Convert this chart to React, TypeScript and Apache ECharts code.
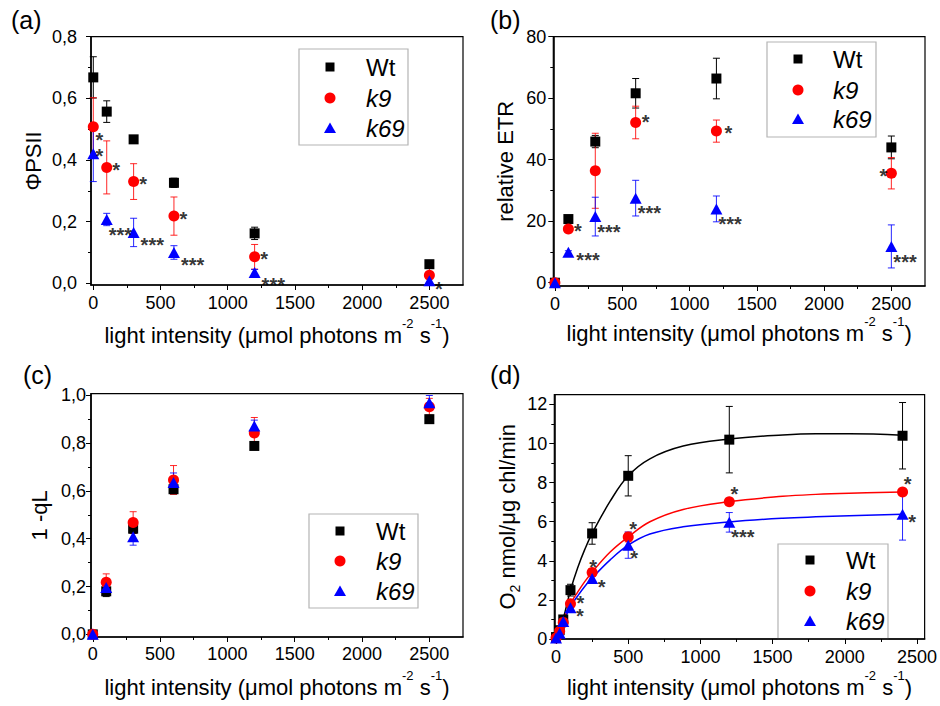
import React, { useEffect, useRef } from 'react';
import * as echarts from 'echarts';

const FONT = '"Liberation Sans", Arial, Helvetica, sans-serif';
const SERIES_KEYS = ['Wt', 'k9', 'k69'];

// ---------- (a) PSII yield ----------
const LIGHT_ABC = [0, 100, 300, 600, 1200, 2500];
const PHI_WT = [0.668, 0.557, 0.467, 0.326, 0.162, 0.062];
const PHI_WT_ERR = [0.067, 0.035, 0.01, 0.015, 0.02, 0.008];
const PHI_K9 = [0.508, 0.376, 0.33, 0.218, 0.086, 0.026];
const PHI_K9_ERR = [0.094, 0.086, 0.058, 0.062, 0.04, 0.025];
const PHI_K69 = [0.42, 0.207, 0.165, 0.1, 0.035, 0.008];
const PHI_K69_ERR = [0.09, 0.02, 0.046, 0.022, 0.01, 0.008];

// ---------- (b) relative ETR ----------
const ETR_WT = [0, 20.7, 45.9, 61.6, 66.4, 44.0];
const ETR_WT_ERR = [0, 0.8, 2, 4.8, 6.6, 3.7];
const ETR_K9 = [0, 17.5, 36.4, 52.1, 49.3, 35.6];
const ETR_K9_ERR = [0, 0.8, 12.2, 5.3, 3.6, 5.1];
const ETR_K69 = [0, 9.9, 21.5, 27.5, 24.0, 11.8];
const ETR_K69_ERR = [0, 0.5, 6.3, 5.8, 4.2, 7.0];

// ---------- (c) 1 - qL ----------
const QL_WT = [0, 0.18, 0.442, 0.607, 0.788, 0.9];
const QL_WT_ERR = [0, 0.022, 0.02, 0.02, 0.015, 0.015];
const QL_K9 = [0, 0.218, 0.468, 0.646, 0.842, 0.952];
const QL_K9_ERR = [0, 0.035, 0.045, 0.06, 0.065, 0.035];
const QL_K69 = [0, 0.196, 0.408, 0.635, 0.871, 0.969];
const QL_K69_ERR = [0, 0.02, 0.035, 0.04, 0.025, 0.03];

// ---------- (d) O2 evolution ----------
const LIGHT_D = [0, 25, 50, 100, 250, 500, 1200, 2400];
const O2_WT = [0.1, 0.45, 1.0, 2.5, 5.4, 8.35, 10.2, 10.4];
const O2_WT_ERR = [0, 0.1, 0.15, 0.3, 0.55, 1.03, 1.7, 1.7];
const O2_K9 = [0.05, 0.4, 0.85, 1.8, 3.4, 5.22, 7.02, 7.52];
const O2_K9_ERR = [0, 0.1, 0.1, 0.2, 0.2, 0.25, 0.15, 0.15];
const O2_K69 = [0.05, 0.3, 0.9, 1.6, 3.1, 4.8, 5.97, 6.38];
const O2_K69_ERR = [0, 0.1, 0.1, 0.15, 0.25, 0.67, 0.5, 1.32];

// fitted curves
const FIT_LIGHT = [0, 50, 100, 150, 200, 250, 375, 500, 650, 880, 1200, 1570, 1800, 2030, 2400];
const FIT_WT = [0, 1.05, 2.5, 3.65, 4.6, 5.4, 7.05, 8.35, 9.22, 9.87, 10.23, 10.44, 10.5, 10.5, 10.43];
const FIT_K9 = [0, 0.95, 1.8, 2.4, 2.95, 3.42, 4.45, 5.22, 6.0, 6.63, 7.03, 7.3, 7.4, 7.46, 7.52];
const FIT_K69 = [0, 0.85, 1.65, 2.2, 2.7, 3.12, 4.05, 4.8, 5.37, 5.74, 5.99, 6.18, 6.25, 6.3, 6.38];

// significance marks: [series, point index, text, placement]
const STARS_A = [
  ['k9', 0, '*', 'RDD'], ['k69', 0, '*', 'RS'], ['k9', 1, '*', 'R'], ['k9', 2, '*', 'R'],
  ['k9', 3, '*', 'R'], ['k9', 4, '*', 'R'], ['k69', 1, '***', 'D3'], ['k69', 2, '***', 'D3r'],
  ['k69', 3, '***', 'D3r'], ['k69', 4, '***', 'D3r'], ['k69', 5, '*', 'RD'],
];
const STARS_B = [
  ['k9', 1, '*', 'R'], ['k69', 1, '***', 'R3'], ['k69', 2, '***', 'D3'], ['k9', 3, '*', 'RU'],
  ['k69', 3, '***', 'D3'], ['k9', 4, '*', 'R2'], ['k69', 4, '***', 'D3'], ['k9', 5, '*', 'L'],
  ['k69', 5, '***', 'D3'],
];
const STARS_D = [
  ['k9', 3, '*', 'RU'], ['k69', 3, '*', 'RD'], ['k9', 4, '*', 'U'], ['k69', 4, '*', 'RD'],
  ['k9', 5, '*', 'UR'], ['k69', 5, '*', 'RDD'], ['k9', 6, '*', 'UR'], ['k69', 6, '***', 'D3'],
  ['k9', 7, '*', 'UR'], ['k69', 7, '*', 'RD'],
];

const X_TICKS = [0, 500, 1000, 1500, 2000, 2500];
const X_MINOR = [250, 750, 1250, 1750, 2250];
const TICKS_A = [0, 0.2, 0.4, 0.6, 0.8];
const MINOR_A = [0.1, 0.3, 0.5, 0.7];
const TICKS_B = [0, 20, 40, 60, 80];
const MINOR_B = [10, 30, 50, 70];
const TICKS_C = [0, 0.2, 0.4, 0.6, 0.8, 1.0];
const MINOR_C = [0.1, 0.3, 0.5, 0.7, 0.9];
const TICKS_D = [0, 2, 4, 6, 8, 10, 12];
const MINOR_D = [1, 3, 5, 7, 9, 11];

const LEGEND_LABELS = ['Wt', 'k9', 'k69'];
const PANEL_LETTERS = ['(a)', '(b)', '(c)', '(d)'];

// ---------- styling / layout ----------
const COLORS: Record<string, string> = { Wt: '#000000', k9: '#ff0000', k69: '#0000ff' };
const SYMBOLS: Record<string, [string, any]> = {
  Wt: ['rect', 10],
  k9: ['circle', 11],
  k69: ['triangle', [12, 11]],
};
const STAR_PLACE: Record<string, { align: string; dx: number; dy: number }> = {
  R: { align: 'center', dx: 9.5, dy: -2 },
  R2: { align: 'center', dx: 12, dy: -3 },
  RU: { align: 'center', dx: 10, dy: -5 },
  RD: { align: 'center', dx: 9.5, dy: 3.5 },
  RDD: { align: 'center', dx: 6, dy: 8.5 },
  RS: { align: 'center', dx: 6, dy: -2 },
  U: { align: 'center', dx: 1, dy: -10 },
  UR: { align: 'center', dx: 5, dy: -12.5 },
  L: { align: 'center', dx: -8, dy: -2 },
  D3: { align: 'left', dx: 2, dy: 10.5 },
  D3r: { align: 'left', dx: 7, dy: 8 },
  R3: { align: 'left', dx: 8, dy: 3 },
};
const STAR_SIZE = 20;
const STAR_SHIFT = 4.6;

const X_NAME = 'light intensity (μmol photons m{sup|-2} s{sup|-1})';

const PANELS = [
  {
    grid: { left: 91, top: 36.7, width: 372, height: 248.3 },
    xRange: [-17, 2750], yRange: [-0.0055, 0.8],
    yTicks: TICKS_A, yMinor: MINOR_A, comma: true,
    yName: 'ΦPSII', yNameGap: 47, yLabelMargin: 14, xLabelMargin: 9, xNameGap: 32,
    x: LIGHT_ABC,
    vals: { Wt: PHI_WT, k9: PHI_K9, k69: PHI_K69 },
    errs: { Wt: PHI_WT_ERR, k9: PHI_K9_ERR, k69: PHI_K69_ERR },
    stars: STARS_A,
  },
  {
    grid: { left: 553.3, top: 36.7, width: 371.7, height: 249.3 },
    xRange: [-12, 2750], yRange: [-1.07, 80],
    yTicks: TICKS_B, yMinor: MINOR_B, comma: false,
    yName: 'relative ETR', yNameGap: 37, yLabelMargin: 7, xLabelMargin: 8.5, xNameGap: 29,
    x: LIGHT_ABC,
    vals: { Wt: ETR_WT, k9: ETR_K9, k69: ETR_K69 },
    errs: { Wt: ETR_WT_ERR, k9: ETR_K9_ERR, k69: ETR_K69_ERR },
    stars: STARS_B,
  },
  {
    grid: { left: 91, top: 393.7, width: 372, height: 249.3 },
    xRange: [-13, 2750], yRange: [-0.011, 1.0065],
    yTicks: TICKS_C, yMinor: MINOR_C, comma: true,
    yName: '1 -qL', yNameGap: 41, yLabelMargin: 5, xLabelMargin: 7.5, xNameGap: 32,
    x: LIGHT_ABC,
    vals: { Wt: QL_WT, k9: QL_K9, k69: QL_K69 },
    errs: { Wt: QL_WT_ERR, k9: QL_K9_ERR, k69: QL_K69_ERR },
    stars: [],
  },
  {
    grid: { left: 554.3, top: 394.7, width: 371.7, height: 249 },
    xRange: [-12, 2553], yRange: [0, 12.5],
    yTicks: TICKS_D, yMinor: MINOR_D, comma: false,
    yName: 'O{sub|2} nmol/μg chl/min', yNameGap: 32, yLabelMargin: 7, xLabelMargin: 8.5, xNameGap: 30,
    x: LIGHT_D,
    vals: { Wt: O2_WT, k9: O2_K9, k69: O2_K69 },
    errs: { Wt: O2_WT_ERR, k9: O2_K9_ERR, k69: O2_K69_ERR },
    stars: STARS_D,
    fit: { x: FIT_LIGHT, Wt: FIT_WT, k9: FIT_K9, k69: FIT_K69 },
  },
];

const LEGENDS = [
  { box: [299, 49, 109, 96], sx: 330, tx: 366, rows: [67, 98, 128] },
  { box: [767, 42, 109, 95], sx: 798, tx: 833, rows: [59, 90, 119] },
  { box: [309, 514, 109, 94], sx: 340, tx: 376, rows: [531, 561, 591] },
  { box: [778, 544, 110, 95], sx: 810, tx: 846, rows: [560, 591, 621] },
];
const LETTER_POS = [[11, 20], [490, 20], [23, 375], [490, 375]];

function errorSeries(color: string, xs: number[], ys: number[], es: number[], xi: number, yi: number) {
  return {
    type: 'custom',
    xAxisIndex: xi,
    yAxisIndex: yi,
    silent: true,
    z: 2,
    clip: false,
    encode: { x: 0, y: [1, 2] },
    data: xs.map((x, i) => [x, ys[i] - es[i], ys[i] + es[i]]),
    renderItem: (_p: any, api: any) => {
      const x = api.value(0);
      const lo = api.coord([x, api.value(1)]);
      const hi = api.coord([x, api.value(2)]);
      if (Math.abs(lo[1] - hi[1]) < 0.5) return null;
      const hw = 3.5;
      const st = { stroke: color, lineWidth: 1, opacity: color === '#000000' ? 1 : 0.85 };
      return {
        type: 'group',
        children: [
          { type: 'line', shape: { x1: lo[0], y1: lo[1], x2: hi[0], y2: hi[1] }, style: st },
          { type: 'line', shape: { x1: lo[0] - hw, y1: lo[1], x2: lo[0] + hw, y2: lo[1] }, style: st },
          { type: 'line', shape: { x1: hi[0] - hw, y1: hi[1], x2: hi[0] + hw, y2: hi[1] }, style: st },
        ],
      };
    },
  };
}

function buildOption() {
  const grids: any[] = [];
  const xAxes: any[] = [];
  const yAxes: any[] = [];
  const series: any[] = [];
  const graphics: any[] = [];

  PANELS.forEach((p: any, pi) => {
    grids.push({ ...p.grid, show: true, borderColor: '#000', borderWidth: 1.2, backgroundColor: 'transparent' });
    const xi = xAxes.length;
    const yi = yAxes.length;
    const fmtY = (v: number) => (p.comma ? v.toFixed(1).replace('.', ',') : String(Math.round(v)));
    xAxes.push({
      type: 'value', gridIndex: pi, position: 'bottom', min: p.xRange[0], max: p.xRange[1],
      axisLine: { show: true, onZero: false, lineStyle: { color: '#000', width: 1.6 } },
      axisTick: { show: true, length: 5, customValues: X_TICKS, lineStyle: { color: '#000', width: 1 } },
      axisLabel: {
        show: true, customValues: X_TICKS, margin: p.xLabelMargin, fontSize: 18, lineHeight: 18,
        fontFamily: FONT, color: '#000', formatter: (v: number) => String(v),
      },
      splitLine: { show: false },
      name: X_NAME, nameLocation: 'middle', nameGap: p.xNameGap,
      nameTextStyle: {
        fontSize: 22, fontFamily: FONT, color: '#000', lineHeight: 36,
        rich: { sup: { fontSize: 13, lineHeight: 13, verticalAlign: 'top', fontFamily: FONT, color: '#000' } },
      },
    });
    xAxes.push({
      type: 'value', gridIndex: pi, position: 'bottom', min: p.xRange[0], max: p.xRange[1],
      axisLine: { show: false, onZero: false },
      axisTick: { show: true, length: 3, customValues: X_MINOR, lineStyle: { color: '#000', width: 1 } },
      axisLabel: { show: false },
      splitLine: { show: false },
    });
    yAxes.push({
      type: 'value', gridIndex: pi, position: 'left', min: p.yRange[0], max: p.yRange[1],
      axisLine: { show: true, onZero: false, lineStyle: { color: '#000', width: 1.6 } },
      axisTick: { show: true, length: 5, customValues: p.yTicks, lineStyle: { color: '#000', width: 1 } },
      axisLabel: {
        show: true, customValues: p.yTicks, margin: p.yLabelMargin, fontSize: 18, lineHeight: 18,
        fontFamily: FONT, color: '#000', formatter: fmtY,
      },
      splitLine: { show: false },
      name: p.yName, nameLocation: 'middle', nameGap: p.yNameGap,
      nameTextStyle: {
        fontSize: 22, fontFamily: FONT, color: '#000', lineHeight: pi === 3 ? 30 : 22,
        rich: { sub: { fontSize: 14, lineHeight: 14, verticalAlign: 'bottom', fontFamily: FONT, color: '#000' } },
      },
    });
    yAxes.push({
      type: 'value', gridIndex: pi, position: 'left', min: p.yRange[0], max: p.yRange[1],
      axisLine: { show: false, onZero: false },
      axisTick: { show: true, length: 3, customValues: p.yMinor, lineStyle: { color: '#000', width: 1 } },
      axisLabel: { show: false },
      splitLine: { show: false },
    });

    if (p.fit) {
      SERIES_KEYS.forEach((k) => {
        series.push({
          type: 'line', xAxisIndex: xi, yAxisIndex: yi, smooth: 0.4, showSymbol: false, silent: true, z: 1,
          data: p.fit.x.map((x: number, i: number) => [x, p.fit[k][i]]),
          lineStyle: { color: COLORS[k], width: 1.5 },
        });
      });
    }
    SERIES_KEYS.forEach((k) => {
      series.push(errorSeries(COLORS[k], p.x, p.vals[k], p.errs[k], xi, yi));
    });
    SERIES_KEYS.forEach((k, si) => {
      series.push({
        type: 'scatter', name: k, xAxisIndex: xi, yAxisIndex: yi, clip: false, silent: true, z: 3 + si,
        symbol: SYMBOLS[k][0], symbolSize: SYMBOLS[k][1],
        itemStyle: { color: COLORS[k], opacity: 1 },
        data: p.x.map((x: number, i: number) => [x, p.vals[k][i]]),
      });
    });
    if (p.stars.length) {
      series.push({
        type: 'scatter', xAxisIndex: xi, yAxisIndex: yi, clip: false, silent: true, z: 8,
        symbol: 'rect', symbolSize: 1, itemStyle: { color: 'rgba(0,0,0,0)' },
        data: p.stars.map((s: any) => {
          const pl = STAR_PLACE[s[3]];
          return {
            value: [p.x[s[1]], p.vals[s[0]][s[1]]],
            label: {
              show: true, formatter: s[2], position: 'inside', align: pl.align, verticalAlign: 'middle',
              offset: [pl.dx, pl.dy + STAR_SHIFT], fontSize: STAR_SIZE, fontWeight: 'bold',
              fontFamily: FONT, color: '#000',
            },
          };
        }),
      });
    }

    // legend box
    const L = LEGENDS[pi];
    const children: any[] = [
      { type: 'rect', shape: { x: L.box[0], y: L.box[1], width: L.box[2], height: L.box[3] },
        style: { fill: 'rgba(255,255,255,0)', stroke: '#b4b4b4', lineWidth: 1.2 } },
    ];
    LEGEND_LABELS.forEach((lab, li) => {
      const y = L.rows[li];
      if (li === 0) {
        children.push({ type: 'rect', shape: { x: L.sx - 4.5, y: y - 4.5, width: 9, height: 9 }, style: { fill: COLORS.Wt } });
      } else if (li === 1) {
        children.push({ type: 'circle', shape: { cx: L.sx, cy: y, r: 5.5 }, style: { fill: COLORS.k9 } });
      } else {
        children.push({ type: 'polygon', shape: { points: [[L.sx, y - 5.5], [L.sx + 6, y + 5], [L.sx - 6, y + 5]] }, style: { fill: COLORS.k69 } });
      }
      children.push({
        type: 'text', x: L.tx, y,
        style: { text: lab, fill: '#000', font: `${li === 0 ? 'normal' : 'italic'} 24px ${FONT}`, textAlign: 'left', textVerticalAlign: 'middle' },
      });
    });
    graphics.push({ type: 'group', children });
    graphics.push({
      type: 'text', x: LETTER_POS[pi][0], y: LETTER_POS[pi][1],
      style: { text: PANEL_LETTERS[pi], fill: '#000', font: `25px ${FONT}`, textAlign: 'left', textVerticalAlign: 'middle' },
    });
  });

  return {
    animation: false,
    backgroundColor: '#ffffff',
    textStyle: { fontFamily: FONT },
    grid: grids,
    xAxis: xAxes,
    yAxis: yAxes,
    series,
    graphic: graphics,
  };
}

export default function App() {
  const ref = useRef<HTMLDivElement>(null);
  useEffect(() => {
    const chart = echarts.init(ref.current as HTMLDivElement, null, { renderer: 'svg' });
    chart.setOption(buildOption() as any);
    return () => chart.dispose();
  }, []);
  return (
    <div
      ref={ref}
      style={{ position: 'absolute', left: 0, top: 0, width: 940, height: 706, background: '#fff' }}
    />
  );
}
